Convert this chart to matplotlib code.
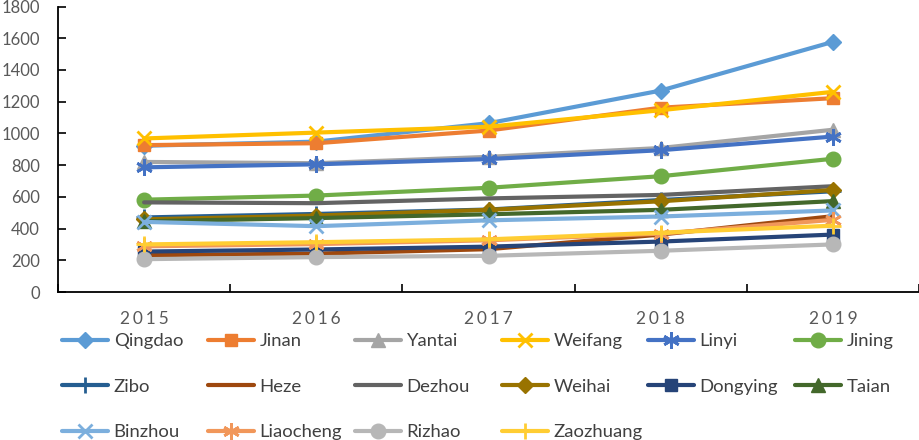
import matplotlib
matplotlib.use("Agg")
import matplotlib.pyplot as plt

plt.rcParams['font.family'] = ['Lato', 'DejaVu Sans']

years = ["2015", "2016", "2017", "2018", "2019"]
cities = ["Qingdao", "Jinan", "Yantai", "Weifang", "Linyi", "Jining",
          "Zibo", "Heze", "Dezhou", "Weihai", "Dongying", "Taian",
          "Binzhou", "Liaocheng", "Rizhao", "Zaozhuang"]

qingdao   = [922, 948, 1064, 1270, 1577]
jinan     = [926, 938, 1018, 1162, 1222]
yantai    = [820, 812, 852, 908, 1023]
weifang   = [968, 1005, 1042, 1146, 1262]
linyi     = [786, 805, 838, 894, 980]
jining    = [582, 608, 657, 730, 840]
zibo      = [470, 492, 520, 580, 635]
heze      = [232, 242, 270, 362, 478]
dezhou    = [565, 560, 590, 612, 667]
weihai    = [458, 482, 518, 572, 643]
dongying  = [255, 268, 286, 318, 362]
taian     = [446, 466, 490, 518, 573]
binzhou   = [442, 415, 452, 476, 514]
liaocheng = [288, 302, 326, 368, 455]
rizhao    = [207, 220, 228, 260, 300]
zaozhuang = [300, 314, 332, 374, 418]

series = [qingdao, jinan, yantai, weifang, linyi, jining, zibo, heze,
          dezhou, weihai, dongying, taian, binzhou, liaocheng, rizhao, zaozhuang]

colors = ["#5B9BD5", "#ED7D31", "#A5A5A5", "#FFC000", "#4472C4", "#70AD47",
          "#255E91", "#9E480E", "#636363", "#997300", "#264478", "#43682B",
          "#7CAFDD", "#F1975A", "#B7B7B7", "#FFCD33"]
asterisk = (6, 2, 0)
markers = ["D", "s", "^", "x", asterisk, "o", "+", None, None, "D", "s", "^",
           "x", asterisk, "o", "+"]
msizes = {"D": 8.5, "s": 9, "^": 9.5, "x": 10.5, "o": 10.5, "+": 12, asterisk: 12}

fig = plt.figure(figsize=(9.2, 4.4), dpi=100)
ax = fig.add_axes([58/920, 1 - 292/440, (919-58)/920, (292-6.5)/440])

x = list(range(len(years)))
handles = []
for name, vals, c, m in zip(cities, series, colors, markers):
    kw = dict(color=c, lw=3, solid_capstyle='round', solid_joinstyle='round')
    if m is not None:
        ms = msizes[m]
        mew = 2 if m in ("x", "+", asterisk) else 1
        kw.update(marker=m, markersize=ms, markerfacecolor=c, markeredgecolor=c,
                  markeredgewidth=mew)
    h, = ax.plot(x, vals, label=name, clip_on=False, **kw)
    handles.append(h)

ax.set_xlim(-0.5, 4.5)
ax.set_ylim(0, 1800)
ax.set_yticks(range(0, 1801, 200))
ax.set_xticks([i - 0.5 for i in range(6)], minor=False)
ax.set_xticklabels([])
ax.set_xticks(x, minor=True)
ax.set_xticklabels(["\u2006".join(y) for y in years], minor=True)
ax.tick_params(axis='x', which='major', direction='in', length=6, width=1.2, color='black')
ax.tick_params(axis='x', which='minor', length=0, pad=14, labelsize=12.5, labelcolor='#595959')
ax.tick_params(axis='y', direction='in', length=6, width=1.2, labelsize=12,
               labelcolor='#595959', pad=13)
for s in ['top', 'right']:
    ax.spines[s].set_visible(False)
for s in ['left', 'bottom']:
    ax.spines[s].set_linewidth(1.3)
    ax.spines[s].set_color('black')

col_x = [62, 208, 355, 502, 648, 795]
for j in range(6):
    idx = [j + 6 * r for r in range(3) if j + 6 * r < len(handles)]
    hs = [handles[i] for i in idx]
    leg = fig.legend(hs, [cities[i] for i in idx], loc='upper left',
                     bbox_to_anchor=(col_x[j] / 920, 1 - 333 / 440),
                     frameon=False, fontsize=13.3, handlelength=2.5,
                     handletextpad=0.3, borderpad=0, borderaxespad=0,
                     labelspacing=1.6, labelcolor='#404040')

fig.savefig("out.png", dpi=100)
